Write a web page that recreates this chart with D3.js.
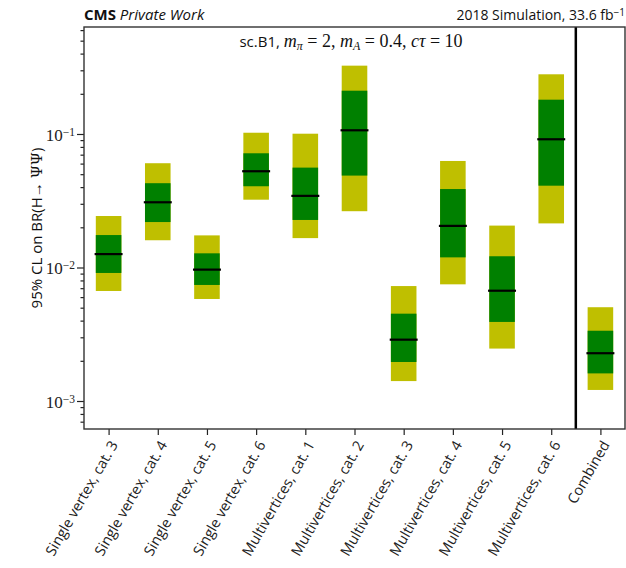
<!DOCTYPE html>
<html>
<head>
<meta charset="utf-8">
<script src="https://cdn.jsdelivr.net/npm/d3@7"></script>
<style>
  body { margin: 0; background: #fff; }
  svg { display: block; }
</style>
</head>
<body>
<svg id="chart"></svg>
<script>
const categories = [
    'Single vertex, cat. 3', 'Single vertex, cat. 4', 'Single vertex, cat. 5', 'Single vertex, cat. 6',
    'Multivertices, cat. 1', 'Multivertices, cat. 2', 'Multivertices, cat. 3', 'Multivertices, cat. 4',
    'Multivertices, cat. 5', 'Multivertices, cat. 6', 'Combined'
];
const expected   = [0.0126, 0.0308, 0.00964, 0.0526, 0.0344, 0.1066, 0.00288, 0.0205, 0.0067, 0.0913, 0.00228];
const sigma1Low  = [0.0091, 0.0219, 0.0074, 0.0406, 0.0227, 0.0488, 0.00196, 0.01191, 0.00391, 0.0410, 0.00161];
const sigma1High = [0.0175, 0.0428, 0.01277, 0.0717, 0.0560, 0.211, 0.00451, 0.0387, 0.01214, 0.1807, 0.00336];
const sigma2Low  = [0.00667, 0.0160, 0.00581, 0.0322, 0.0166, 0.0264, 0.00141, 0.00748, 0.00247, 0.0214, 0.00121];
const sigma2High = [0.0243, 0.0604, 0.0174, 0.1022, 0.1005, 0.325, 0.00726, 0.0628, 0.0206, 0.280, 0.00504];
const majorTicks = [1e-3, 1e-2, 1e-1];
const majorExps  = ['−3', '−2', '−1'];

const width = 626, height = 568;
const margin = {top: 27, right: 1, bottom: 139, left: 84};
const innerW = width - margin.left - margin.right;
const innerH = height - margin.top - margin.bottom;

const svg = d3.select('#chart')
    .attr('width', width)
    .attr('height', height);

const chart = svg.append('g')
    .attr('transform', `translate(${margin.left}, ${margin.top})`);

const xscale = d3.scaleLinear()
    .domain([-0.5, categories.length - 0.5])
    .range([0, innerW]);

const yscale = d3.scaleLog()
    .domain([6.17e-4, 0.633])
    .range([innerH, 0]);

const rows = categories.map((c, i) => ({
    i: i, name: c, exp: expected[i],
    lo1: sigma1Low[i], hi1: sigma1High[i],
    lo2: sigma2Low[i], hi2: sigma2High[i]
}));

const barW = xscale(0.26) - xscale(-0.26);

// 2 sigma band
chart.selectAll('.band2')
    .data(rows)
    .join('rect')
    .attr('class', 'band2')
    .attr('x', d => xscale(d.i) - barW / 2)
    .attr('width', barW)
    .attr('y', d => yscale(d.hi2))
    .attr('height', d => yscale(d.lo2) - yscale(d.hi2))
    .attr('fill', '#bfbf00');

// 1 sigma band
chart.selectAll('.band1')
    .data(rows)
    .join('rect')
    .attr('class', 'band1')
    .attr('x', d => xscale(d.i) - barW / 2)
    .attr('width', barW)
    .attr('y', d => yscale(d.hi1))
    .attr('height', d => yscale(d.lo1) - yscale(d.hi1))
    .attr('fill', '#008000');

// median expected
chart.selectAll('.median')
    .data(rows)
    .join('line')
    .attr('class', 'median')
    .attr('x1', d => xscale(d.i) - barW / 2 - 1.2)
    .attr('x2', d => xscale(d.i) + barW / 2 + 1.2)
    .attr('y1', d => yscale(d.exp))
    .attr('y2', d => yscale(d.exp))
    .attr('stroke', '#000')
    .attr('stroke-width', 2.2);

// separator before combined
chart.append('line')
    .attr('x1', xscale(categories.length - 1.5))
    .attr('x2', xscale(categories.length - 1.5))
    .attr('y1', 0)
    .attr('y2', innerH)
    .attr('stroke', '#000')
    .attr('stroke-width', 2.5);

// minor ticks
const minorTicks = [];
for (let e = -4; e <= 0; e++) {
    for (let m = 2; m <= 9; m++) {
        const v = m * Math.pow(10, e);
        if (v >= yscale.domain()[0] && v <= yscale.domain()[1]) minorTicks.push(v);
    }
}

const yMinor = d3.axisLeft(yscale)
    .tickValues(minorTicks)
    .tickSize(3.5)
    .tickFormat('')
    .tickSizeOuter(0);

const yMajor = d3.axisLeft(yscale)
    .tickValues(majorTicks)
    .tickSize(7)
    .tickFormat('')
    .tickSizeOuter(0);

const xaxis = d3.axisBottom(xscale)
    .tickValues(d3.range(categories.length))
    .tickSize(6)
    .tickFormat('')
    .tickSizeOuter(0);

const yMinorG = chart.append('g').call(yMinor);
const yMajorG = chart.append('g').call(yMajor);
const xaxisG = chart.append('g')
    .attr('transform', `translate(0, ${innerH})`)
    .call(xaxis);

[yMinorG, yMajorG, xaxisG].forEach(g => {
    g.select('.domain').remove();
    g.selectAll('.tick line').attr('stroke', '#222').attr('stroke-width', 1.2);
});

// y tick labels as 10^x
yMajorG.selectAll('.tick').each(function (d, i) {
    const t = d3.select(this).append('text')
        .attr('x', -9)
        .attr('dy', '0.38em')
        .attr('text-anchor', 'end')
        .attr('fill', '#222')
        .style('font-family', '"Liberation Serif", serif')
        .style('font-size', '17px');
    t.append('tspan').text('10');
    t.append('tspan')
        .attr('dy', '-0.45em')
        .style('font-size', '11.5px')
        .text(majorExps[i]);
});

// x tick labels
xaxisG.selectAll('.tick').each(function (d) {
    d3.select(this).append('text')
        .attr('transform', 'translate(5, 13) rotate(-60)')
        .attr('text-anchor', 'end')
        .attr('dy', '0.35em')
        .attr('fill', '#222')
        .style('font-family', '"Open Sans", sans-serif')
        .style('font-size', '14.5px')
        .text(categories[d]);
});

// frame
chart.append('rect')
    .attr('width', innerW)
    .attr('height', innerH)
    .attr('fill', 'none')
    .attr('stroke', '#333')
    .attr('stroke-width', 1.4);

// header texts
const head = svg.append('text')
    .attr('x', margin.left)
    .attr('y', 20)
    .style('font-family', '"Open Sans", sans-serif')
    .style('font-size', '15px')
    .attr('fill', '#111');
head.append('tspan').style('font-weight', 'bold').text('CMS');
head.append('tspan').style('font-style', 'italic').text(' Private Work');

const lumi = svg.append('text')
    .attr('x', width - 1)
    .attr('y', 20)
    .attr('text-anchor', 'end')
    .style('font-family', '"Open Sans", sans-serif')
    .style('font-size', '14px')
    .attr('fill', '#111');
lumi.append('tspan').text('2018 Simulation, 33.6 fb');
lumi.append('tspan').attr('dy', '-0.45em').style('font-size', '10px').text('−1');

// signal point annotation
const note = svg.append('text')
    .attr('x', 351)
    .attr('y', 47)
    .attr('text-anchor', 'middle')
    .attr('fill', '#111')
    .style('font-family', '"Liberation Serif", serif')
    .style('font-size', '18px');
note.append('tspan').style('font-family', '"Open Sans", sans-serif').style('font-size', '15px').text('sc.B1, ');
note.append('tspan').style('font-style', 'italic').text('m');
note.append('tspan').attr('dy', 3).style('font-style', 'italic').style('font-size', '12px').text('π');
note.append('tspan').attr('dy', -3).text(' = 2, ');
note.append('tspan').style('font-style', 'italic').text('m');
note.append('tspan').attr('dy', 3).style('font-style', 'italic').style('font-size', '12px').text('A');
note.append('tspan').attr('dy', -3).text(' = 0.4, ');
note.append('tspan').style('font-style', 'italic').text('cτ');
note.append('tspan').text(' = 10');

// y label
const ylab = svg.append('text')
    .attr('transform', `translate(42, ${margin.top + innerH / 2}) rotate(-90)`)
    .attr('text-anchor', 'middle')
    .attr('fill', '#111')
    .style('font-family', '"Open Sans", sans-serif')
    .style('font-size', '15px');
ylab.append('tspan').text('95% CL on BR(H→ ');
ylab.append('tspan').style('font-family', '"DejaVu Serif", serif').style('font-size', '15px').text('ΨΨ');
ylab.append('tspan').text(')');
</script>
</body>
</html>
